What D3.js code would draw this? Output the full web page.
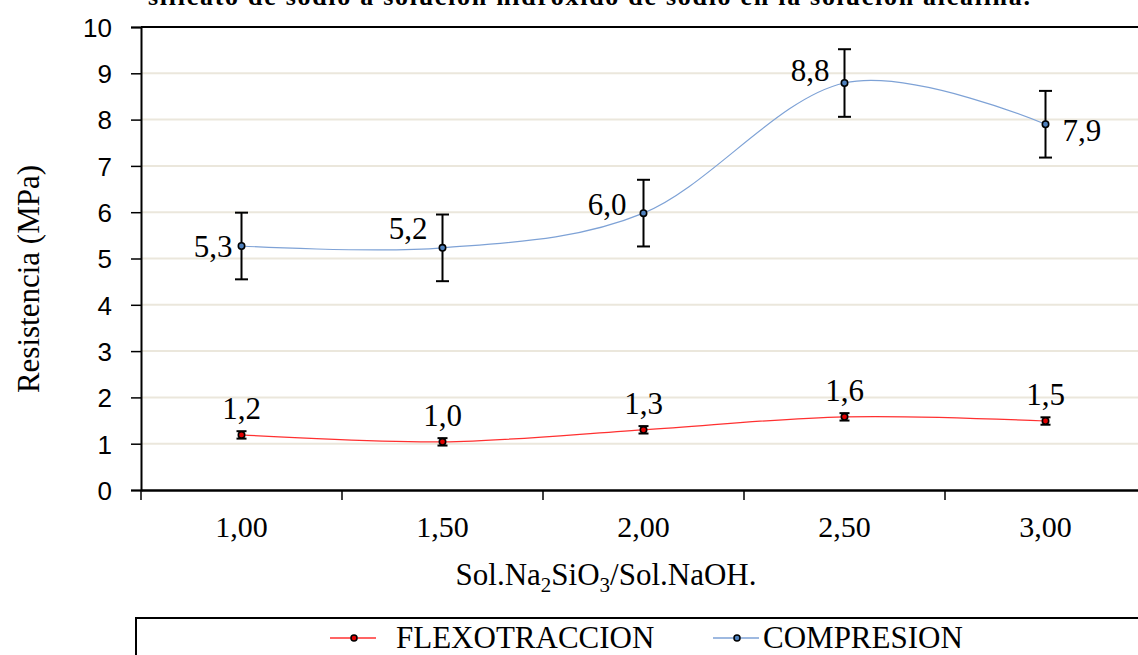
<!DOCTYPE html>
<html lang="es">
<head>
  <meta charset="UTF-8">
  <title>Resistencia vs Sol.Na2SiO3/Sol.NaOH</title>
  <script src="https://d3js.org/d3.v7.min.js"></script>
  <style>
    body { margin: 0; background: #fff; overflow: hidden; }
    .serif { font-family: "Liberation Serif", "Times New Roman", serif; fill: #000; }
    .sans { font-family: "Liberation Sans", Arial, sans-serif; fill: #000; }
  </style>
</head>
<body>
  <div id="chart"></div>

  <script>
    // ------------------------ Data ------------------------

    const categories = ["1,00", "1,50", "2,00", "2,50", "3,00"];
    const compresion = [5.27, 5.23, 5.98, 8.79, 7.90];
    const compresionErr = [0.72, 0.72, 0.72, 0.73, 0.72];
    const compresionLabels = ["5,3", "5,2", "6,0", "8,8", "7,9"];
    const flexotraccion = [1.19, 1.04, 1.30, 1.58, 1.49];
    const flexotraccionErr = [0.08, 0.08, 0.08, 0.08, 0.08];
    const flexotraccionLabels = ["1,2", "1,0", "1,3", "1,6", "1,5"];
    const yTicks = [0, 1, 2, 3, 4, 5, 6, 7, 8, 9, 10];
    const seriesNames = ["FLEXOTRACCION", "COMPRESION"];

    // label offsets (px) relative to each point
    const compLabelOffset = [[-9, 0, "end"], [-15, -20, "end"], [-17, -9, "end"], [-15, -13, "end"], [17, 6, "start"]];

    // ------------------------ Setup ------------------------

    const W = 1138, H = 655;
    const plot = { left: 141, top: 27, bottom: 490, right: 1146 };

    const svg = d3.select("#chart").append("svg")
      .attr("width", W).attr("height", H);

    const x = d3.scaleBand().domain(categories).range([plot.left, plot.right]).padding(0);
    const y = d3.scaleLinear().domain([0, 10]).range([plot.bottom, plot.top]);

    const blue = "#7ea2d6", blueDot = "#4f81bd";
    const red = "#ff3030", redDot = "#e00000";

    // clipped title at top
    svg.append("text").attr("class", "serif")
      .attr("x", 148).attr("y", 5)
      .attr("font-size", 26).attr("font-weight", "bold")
      .attr("textLength", 882)
      .text("silicato de sodio a solución hidróxido de sodio en la solución alcalina.");

    // ------------------------ Grid & Axes ------------------------

    function drawAxes() {
      svg.append("g").selectAll("line")
        .data(yTicks.filter(d => d > 0 && d < 10))
        .join("line")
        .attr("x1", plot.left).attr("x2", W)
        .attr("y1", d => y(d)).attr("y2", d => y(d))
        .attr("stroke", "#ebe7dc").attr("stroke-width", 2);

      // top border
      svg.append("line")
        .attr("x1", plot.left).attr("x2", W)
        .attr("y1", y(10)).attr("y2", y(10))
        .attr("stroke", "#000").attr("stroke-width", 2);

      const yAxis = svg.append("g")
        .attr("transform", `translate(${plot.left},0)`)
        .call(d3.axisLeft(y).tickValues(yTicks).tickSize(10).tickPadding(19).tickFormat(d3.format("d")));
      yAxis.select(".domain").attr("stroke-width", 2);
      yAxis.selectAll(".tick line").attr("stroke-width", 1.5);
      yAxis.selectAll(".tick text").attr("class", "sans").attr("font-size", 26).attr("dy", "0.36em");

      const xAxis = svg.append("g")
        .attr("transform", `translate(0,${plot.bottom})`)
        .call(d3.axisBottom(x).tickSize(0).tickPadding(26));
      xAxis.select(".domain").attr("stroke-width", 2.5);
      xAxis.selectAll(".tick text").attr("class", "serif").attr("font-size", 30);

      // boundary ticks between categories
      svg.append("g").selectAll("line")
        .data(categories)
        .join("line")
        .attr("x1", d => x(d)).attr("x2", d => x(d))
        .attr("y1", plot.bottom).attr("y2", plot.bottom + 10)
        .attr("stroke", "#000").attr("stroke-width", 1.5);

      // axis titles
      const xt = svg.append("text").attr("class", "serif")
        .attr("x", 606).attr("y", 585).attr("font-size", 31)
        .attr("text-anchor", "middle");
      xt.append("tspan").text("Sol.Na");
      xt.append("tspan").attr("font-size", 21).attr("dy", 7).text("2");
      xt.append("tspan").attr("dy", -7).text("SiO");
      xt.append("tspan").attr("font-size", 21).attr("dy", 7).text("3");
      xt.append("tspan").attr("dy", -7).text("/Sol.NaOH.");

      svg.append("text").attr("class", "serif")
        .attr("transform", "translate(39,279) rotate(-90)")
        .attr("font-size", 31).attr("text-anchor", "middle")
        .text("Resistencia (MPa)");
    }

    // ------------------------ Series ------------------------

    function drawSeries(values, errs, labels, lineColor, dotColor, capW, labelPos) {
      const pts = categories.map((c, i) => ({
        cx: x(c) + x.bandwidth() / 2, v: values[i], e: errs[i], label: labels[i], i
      }));

      const line = d3.line().x(d => d.cx).y(d => y(d.v)).curve(d3.curveCatmullRom.alpha(0));
      svg.append("path").datum(pts)
        .attr("d", line).attr("fill", "none")
        .attr("stroke", lineColor).attr("stroke-width", 1.2);

      const eb = svg.append("g").selectAll("g").data(pts).join("g");
      eb.append("line")
        .attr("x1", d => d.cx).attr("x2", d => d.cx)
        .attr("y1", d => y(d.v + d.e)).attr("y2", d => y(d.v - d.e))
        .attr("stroke", "#000").attr("stroke-width", 2);
      [1, -1].forEach(s => {
        eb.append("line")
          .attr("x1", d => d.cx - capW / 2).attr("x2", d => d.cx + capW / 2)
          .attr("y1", d => y(d.v + s * d.e)).attr("y2", d => y(d.v + s * d.e))
          .attr("stroke", "#000").attr("stroke-width", 2);
      });

      svg.append("g").selectAll("circle").data(pts).join("circle")
        .attr("cx", d => d.cx).attr("cy", d => y(d.v)).attr("r", 3.2)
        .attr("fill", dotColor).attr("stroke", "#000").attr("stroke-width", 1.6);

      svg.append("g").selectAll("text").data(pts).join("text")
        .attr("class", "serif").attr("font-size", 31)
        .attr("x", d => d.cx + labelPos(d.i)[0])
        .attr("y", d => y(d.v) + labelPos(d.i)[1])
        .attr("dy", "0.35em")
        .attr("text-anchor", d => labelPos(d.i)[2])
        .text(d => d.label);
    }

    // ------------------------ Legend ------------------------

    function drawLegend() {
      svg.append("rect")
        .attr("x", 136).attr("y", 618).attr("width", 1100).attr("height", 100)
        .attr("fill", "#fff").attr("stroke", "#000").attr("stroke-width", 2);

      const items = [
        { name: seriesNames[0], color: red, dot: redDot, x0: 330, gap: 20 },
        { name: seriesNames[1], color: blue, dot: blueDot, x0: 713, gap: 4 }
      ];
      const ly = 638;
      const g = svg.append("g").selectAll("g").data(items).join("g");
      g.append("line")
        .attr("x1", d => d.x0).attr("x2", d => d.x0 + 46)
        .attr("y1", ly).attr("y2", ly)
        .attr("stroke", d => d.color).attr("stroke-width", 1.5);
      g.append("circle")
        .attr("cx", d => d.x0 + 24).attr("cy", ly).attr("r", 3)
        .attr("fill", d => d.dot).attr("stroke", "#000").attr("stroke-width", 1.5);
      g.append("text").attr("class", "serif")
        .attr("x", d => d.x0 + 46 + d.gap).attr("y", ly + 10)
        .attr("font-size", 31)
        .text(d => d.name);
    }

    drawAxes();
    drawSeries(flexotraccion, flexotraccionErr, flexotraccionLabels, red, redDot, 10,
      () => [0, -27, "middle"]);
    drawSeries(compresion, compresionErr, compresionLabels, blue, blueDot, 13,
      i => compLabelOffset[i]);
    drawLegend();
  </script>
</body>
</html>
